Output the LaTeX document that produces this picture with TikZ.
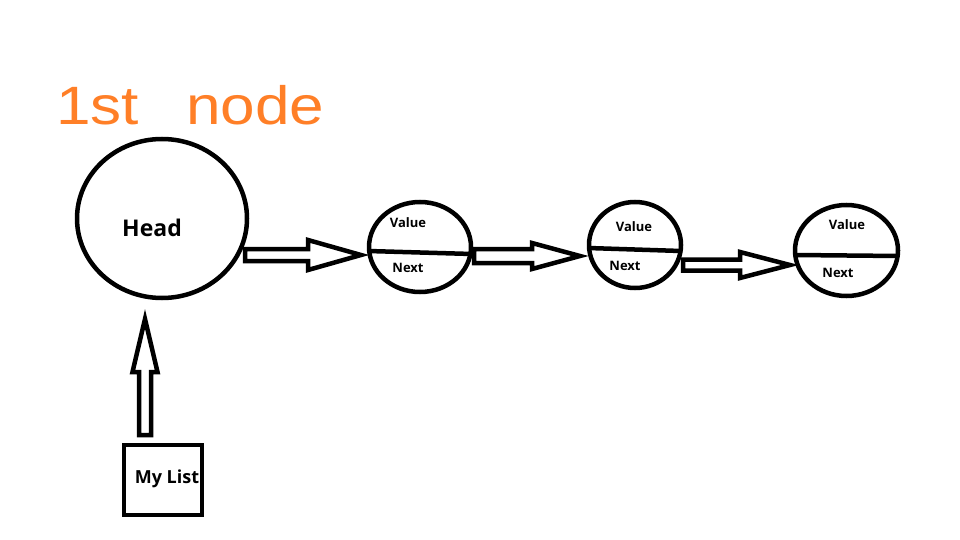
\documentclass[tikz,border=0pt]{standalone}
\usepackage{fontspec}
\setmainfont{Open Sans}
\newfontfamily\handfont{Liberation Sans}
\usetikzlibrary{shapes.geometric,calc}
\definecolor{paintorange}{RGB}{255,127,39}
\tikzset{
  outline/.style={draw=black, line width=4.5pt},
  listnode/.style={outline, ellipse, inner sep=0pt},
  fieldtxt/.style={font=\bfseries\fontsize{13}{15}\selectfont, inner sep=0pt},
  fatarrow/.style={draw=black, line width=4.5pt, fill=white, line join=miter},
}
% horizontal fat arrow: start, tip, shaft half width, head half width, head length
\newcommand{\harrow}[5]{%
  \draw[fatarrow] ($(#1)+(0,-#3)$) -- ($(#2)+(-#5,-#3)$) -- ($(#2)+(-#5,-#4)$) -- (#2)
    -- ($(#2)+(-#5,#4)$) -- ($(#2)+(-#5,#3)$) -- ($(#1)+(0,#3)$) -- cycle;}
% vertical (upward) fat arrow: start, tip, shaft half width, head half width, head length
\newcommand{\uarrow}[5]{%
  \draw[fatarrow] ($(#1)+(-#3,0)$) -- ($(#2)+(-#3,#5)$) -- ($(#2)+(-#4,#5)$) -- (#2)
    -- ($(#2)+(#4,#5)$) -- ($(#2)+(#3,#5)$) -- ($(#1)+(#3,0)$) -- cycle;}
\begin{document}
\begin{tikzpicture}[x=1pt,y=-1pt]
  \fill[white] (0,0) rectangle (960,540);
  \useasboundingbox (0,0) rectangle (960,540);

  % handwritten title
  \node[anchor=base west, inner sep=0pt, text=paintorange, font=\handfont\fontsize{54}{60}\selectfont]
    (title) at (56,125) {\scalebox{1.15}[1]{1st\hspace{41pt}node}};

  % head node
  \node[listnode, minimum width=170pt, minimum height=159pt] (h) at (162,218.5) {};
  \node[inner sep=0pt, font=\bfseries\fontsize{23}{27}\selectfont] (htxt) at (152,228) {Head};

  % list nodes
  \node[listnode, minimum width=102pt, minimum height=90pt] (n1) at (420,247) {};
  \node[listnode, minimum width=92pt, minimum height=86pt] (n2) at (635,245) {};
  \node[listnode, minimum width=103pt, minimum height=91pt] (n3) at (846.5,250.5) {};

  % dividers
  \coordinate (d1a) at (368,251); \coordinate (d1b) at (472,254);
  \coordinate (d2a) at (588,248); \coordinate (d2b) at (681,251);
  \coordinate (d3a) at (795,255); \coordinate (d3b) at (899,256);
  \draw[outline] (d1a) -- (d1b);
  \draw[outline] (d2a) -- (d2b);
  \draw[outline] (d3a) -- (d3b);

  % field labels
  \node[fieldtxt] (v1) at (408,223) {Value};
  \node[fieldtxt] (x1) at (408,268) {Next};
  \node[fieldtxt] (v2) at (634,227) {Value};
  \node[fieldtxt] (x2) at (625,266) {Next};
  \node[fieldtxt] (v3) at (847,225) {Value};
  \node[fieldtxt] (x3) at (838,273) {Next};

  % My List box
  \node[outline, minimum width=78pt, minimum height=70pt, inner sep=0pt] (box) at (163,480) {};
  \node[inner sep=0pt, font=\bfseries\fontsize{18}{21}\selectfont] (boxtxt) at (167,479) {My List};

  % arrows
  \coordinate (a1s) at (245,255); \coordinate (a1t) at (361,255);
  \coordinate (a2s) at (474,256); \coordinate (a2t) at (580,256);
  \coordinate (a3s) at (683,265); \coordinate (a3t) at (790,265);
  \coordinate (a4s) at (145,435); \coordinate (a4t) at (145,319);
  \harrow{a1s}{a1t}{6}{15}{53}
  \harrow{a2s}{a2t}{7}{13}{48}
  \harrow{a3s}{a3t}{5.5}{13}{50}
  \uarrow{a4s}{a4t}{6}{12.5}{53}
\end{tikzpicture}
\end{document}
